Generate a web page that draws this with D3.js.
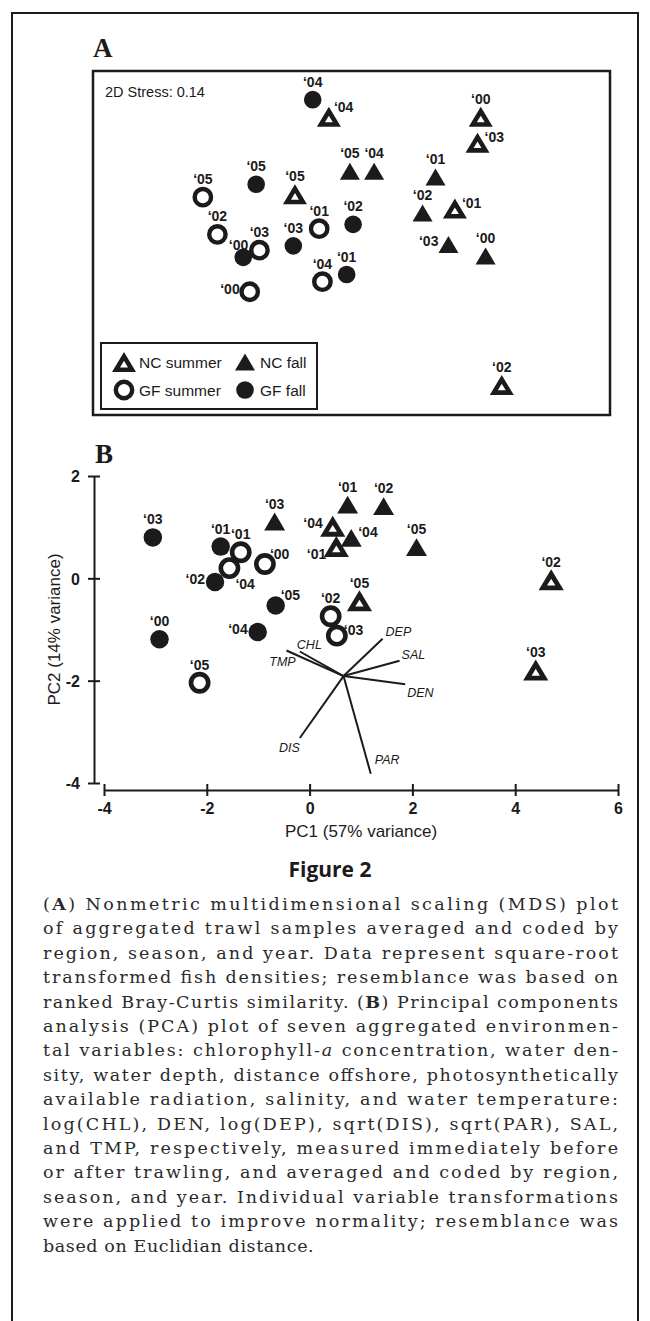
<!DOCTYPE html>
<html><head><meta charset="utf-8">
<script src="https://cdn.jsdelivr.net/npm/d3@7"></script>
<style>body{margin:0;background:#fff}</style>
</head><body>
<script>
// ---------- Panel A : MDS (arbitrary MDS units) ----------
const mdsGroup = ["GFf","NCs","GFs","GFf","NCs","NCf","GFs","GFf","GFs","GFf","GFs","GFf","GFs","GFf","GFs","NCf","NCs","NCs","NCf","NCf","NCs","NCf","NCf","NCs"];
const mdsYear  = ["04","04","05","05","05","05","02","00","03","03","01","02","04","01","00","04","00","03","01","02","01","03","00","02"];
const mdsX     = [-0.24,-0.14,-0.92,-0.59,-0.35,-0.01,-0.83,-0.67,-0.57,-0.36,-0.20,0.01,-0.18,-0.03,-0.63,0.14,0.80,0.78,0.52,0.44,0.64,0.60,0.83,0.93];
const mdsY     = [1.00,0.88,0.32,0.41,0.34,0.50,0.06,-0.10,-0.05,-0.02,0.10,0.13,-0.27,-0.22,-0.34,0.50,0.88,0.70,0.46,0.21,0.24,-0.01,-0.09,-0.99];
const mdsLabelSide = ["n","ne","n","n","n","n","n","nw","n","n","n","n","n","n","w","n","n","e","n","n","e","w","n","n"];
const stressText = "2D Stress: 0.14";

// ---------- Panel B : PCA ----------
const pcaGroup = ["GFf","GFf","GFs","GFs","GFf","GFs","NCf","GFf","GFf","GFf","GFs","GFs","GFs","NCs","NCf","NCf","NCs","NCf","NCs","NCf","NCs","NCs"];
const pcaYear  = ["03","01","01","04","02","00","03","00","05","04","05","02","03","05","01","02","04","04","01","05","02","03"];
const pcaX     = [-3.05,-1.73,-1.34,-1.56,-1.84,-0.87,-0.68,-2.92,-0.66,-1.01,-2.14,0.41,0.53,0.97,0.74,1.44,0.45,0.81,0.52,2.08,4.70,4.40];
const pcaY     = [0.80,0.62,0.51,0.20,-0.07,0.28,1.11,-1.19,-0.53,-1.05,-2.04,-0.74,-1.12,-0.44,1.44,1.41,1.02,0.79,0.62,0.61,-0.03,-1.79];
const pcaLabelSide = ["n","n","n","se","w","ne","n","n","ne","w","n","n","e","n","n","n","w","e","sw","n","n","n"];

const vecNames = ["CHL","TMP","DEP","SAL","DEN","DIS","PAR"];
const vecX = [-0.19,-0.45,1.42,1.75,1.86,-0.19,1.19];
const vecY = [-1.43,-1.41,-1.18,-1.61,-2.07,-3.12,-3.82];
const vecOriginX = 0.66, vecOriginY = -1.91;

const pcaXTicks = [-4,-2,0,2,4,6];
const pcaYTicks = [-4,-2,0,2];
const pcaXTitle = "PC1 (57% variance)";
const pcaYTitle = "PC2 (14% variance)";

const legendKeys = ["NCs","NCf","GFs","GFf"];
const legendLabels = ["NC summer","NC fall","GF summer","GF fall"];

const figTitle = "Figure 2";
const captionLines = [
 "(**A**) Nonmetric multidimensional scaling (MDS) plot",
 "of aggregated trawl samples averaged and coded by",
 "region, season, and year. Data represent square-root",
 "transformed fish densities; resemblance was based on",
 "ranked Bray-Curtis similarity. (**B**) Principal components",
 "analysis (PCA) plot of seven aggregated environmen-",
 "tal variables: chlorophyll-_a_ concentration, water den-",
 "sity, water depth, distance offshore, photosynthetically",
 "available radiation, salinity, and water temperature:",
 "log(CHL), DEN, log(DEP), sqrt(DIS), sqrt(PAR), SAL,",
 "and TMP, respectively, measured immediately before",
 "or after trawling, and averaged and coded by region,",
 "season, and year. Individual variable transformations",
 "were applied to improve normality; resemblance was",
 "based on Euclidian distance."
];

// ---------- drawing ----------
const ink = "#1c1a1b";
const sans = '"Liberation Sans", Arial, Helvetica, sans-serif';
const svg = d3.select("body").append("svg")
  .attr("width",650).attr("height",1321)
  .style("font-family",sans);

// outer frame
svg.append("rect").attr("x",12).attr("y",13).attr("width",626).attr("height",1340)
  .attr("fill","none").attr("stroke",ink).attr("stroke-width",2);

function triPts(w,h){ return [[0,-h/2],[w/2,h/2],[-w/2,h/2]]; }
function drawMarker(g, grp, s){
  if(grp==="NCs"){
    const w=24*s,h=20*s, pts=triPts(w,h);
    const leg=Math.hypot(w/2,h), area=w*h/2, r=area/((w+2*leg)/2);
    const ic=[0,h/2-r], k=0.33;
    g.append("path").attr("d",d3.line()(pts)+"Z").attr("fill",ink);
    g.append("path").attr("d",d3.line()(pts.map(p=>[ic[0]+k*(p[0]-ic[0]), ic[1]+k*(p[1]-ic[1])]))+"Z").attr("fill","#fff");
  } else if(grp==="NCf"){
    g.append("path").attr("d",d3.line()(triPts(20*s,17*s))+"Z").attr("fill",ink);
  } else if(grp==="GFs"){
    g.append("circle").attr("r",8.2*s).attr("fill","#fff").attr("stroke",ink).attr("stroke-width",4.4*s);
  } else {
    g.append("circle").attr("r",8.8*s).attr("fill",ink);
  }
}
const labelOff = {
  n:{a:"middle",dx:0,dy:-13},
  ne:{a:"start",dx:5,dy:-5},
  e:{a:"start",dx:7,dy:-1},
  w:{a:"end",dx:-10,dy:2},
  nw:{a:"end",dx:5,dy:-7},
  se:{a:"start",dx:6,dy:21},
  sw:{a:"end",dx:-10,dy:12}
};
function drawPoints(layer, xs, ys, groups, years, sides, sx, sy, s){
  xs.forEach((v,i)=>{
    const g = layer.append("g").attr("transform",`translate(${sx(v)},${sy(ys[i])})`);
    drawMarker(g, groups[i], s);
    const o = labelOff[sides[i]];
    layer.append("text").attr("x",sx(v)+o.dx).attr("y",sy(ys[i])+o.dy)
      .attr("text-anchor",o.a).attr("font-size",14).attr("font-weight","bold").attr("fill",ink)
      .text("\u2018"+years[i]);
  });
}

// ===== Panel A =====
svg.append("text").attr("x",93).attr("y",57).attr("font-family",'"Liberation Serif", "Times New Roman", serif')
  .attr("font-weight","bold").attr("font-size",27).attr("fill",ink).text("A");
const ax = d3.scaleLinear().domain([-1.6,1.6]).range([93,610]);
const ay = d3.scaleLinear().domain([-1.2,1.2]).range([415,71]);
svg.append("rect").attr("x",ax(-1.6)).attr("y",ay(1.2)).attr("width",ax(1.6)-ax(-1.6)).attr("height",ay(-1.2)-ay(1.2))
  .attr("fill","none").attr("stroke",ink).attr("stroke-width",2.5);
svg.append("text").attr("x",105).attr("y",97).attr("font-size",14.5).attr("fill",ink).text(stressText);
const aLayer = svg.append("g");
drawPoints(aLayer, mdsX, mdsY, mdsGroup, mdsYear, mdsLabelSide, ax, ay, 1);

// legend
const lg = svg.append("g");
lg.append("rect").attr("x",101).attr("y",343).attr("width",216).attr("height",66)
  .attr("fill","#fff").attr("stroke",ink).attr("stroke-width",2);
legendKeys.forEach((k,i)=>{
  const col=i%2, row=Math.floor(i/2);
  const cx = 124 + col*121, cy = 362 + row*28;
  drawMarker(lg.append("g").attr("transform",`translate(${cx},${cy})`), k, 1);
  lg.append("text").attr("x",cx+15).attr("y",cy+6).attr("font-size",15.5).attr("fill",ink).text(legendLabels[i]);
});

// ===== Panel B =====
svg.append("text").attr("x",95).attr("y",463).attr("font-family",'"Liberation Serif", "Times New Roman", serif')
  .attr("font-weight","bold").attr("font-size",27).attr("fill",ink).text("B");
const bx = d3.scaleLinear().domain([-4,6]).range([104,618]);
const by = d3.scaleLinear().domain([-4,2]).range([783,476]);
const yAxisX = 94, xAxisY = 790;
const fmt = d => String(d);

const gy = svg.append("g").attr("transform",`translate(${yAxisX},0)`)
  .call(d3.axisLeft(by).tickValues(pcaYTicks).tickSizeOuter(0).tickSizeInner(6).tickPadding(8).tickFormat(fmt));
gy.select(".domain").attr("stroke",ink).attr("stroke-width",2);
gy.selectAll(".tick line").attr("x1",-6).attr("x2",6).attr("stroke",ink).attr("stroke-width",2);
gy.selectAll(".tick text").attr("font-family",sans).attr("font-size",16).attr("font-weight","bold").attr("fill",ink).attr("dy","0.36em");

const gx = svg.append("g").attr("transform",`translate(0,${xAxisY})`)
  .call(d3.axisBottom(bx).tickValues(pcaXTicks).tickSizeOuter(0).tickSizeInner(6).tickPadding(7).tickFormat(fmt));
gx.select(".domain").attr("stroke",ink).attr("stroke-width",2);
gx.selectAll(".tick line").attr("y1",-6).attr("y2",6).attr("stroke",ink).attr("stroke-width",2);
gx.selectAll(".tick text").attr("font-family",sans).attr("font-size",16).attr("font-weight","bold").attr("fill",ink);

svg.append("text").attr("x",(bx(-4)+bx(6))/2).attr("y",837).attr("text-anchor","middle")
  .attr("font-size",17).attr("fill",ink).text(pcaXTitle);
svg.append("text").attr("transform",`translate(60,${(by(-4)+by(2))/2}) rotate(-90)`).attr("text-anchor","middle")
  .attr("font-size",17).attr("fill",ink).text(pcaYTitle);

// vectors
const vecLab = {
  CHL:{a:"start",dx:-3,dy:-3}, TMP:{a:"middle",dx:-4,dy:16}, DEP:{a:"start",dx:3,dy:-3},
  SAL:{a:"start",dx:2,dy:-2}, DEN:{a:"start",dx:2,dy:13}, DIS:{a:"end",dx:0,dy:14}, PAR:{a:"start",dx:4,dy:-10}
};
const vg = svg.append("g");
vecNames.forEach((n,i)=>{
  vg.append("line").attr("x1",bx(vecOriginX)).attr("y1",by(vecOriginY)).attr("x2",bx(vecX[i])).attr("y2",by(vecY[i]))
    .attr("stroke",ink).attr("stroke-width",2);
  const o = vecLab[n];
  vg.append("text").attr("x",bx(vecX[i])+o.dx).attr("y",by(vecY[i])+o.dy).attr("text-anchor",o.a)
    .attr("font-size",12.5).attr("font-style","italic").attr("fill",ink).text(n);
});

const bLayer = svg.append("g");
drawPoints(bLayer, pcaX, pcaY, pcaGroup, pcaYear, pcaLabelSide, bx, by, 1.05);

// ===== Caption =====
svg.append("text").attr("x",330).attr("y",877).attr("text-anchor","middle")
  .attr("font-family",'"Open Sans", "Liberation Sans", sans-serif').attr("font-weight","bold").attr("font-size",21).attr("fill",ink)
  .text(figTitle);
const serif = '"DejaVu Serif", "Liberation Serif", serif';
captionLines.forEach((line,i)=>{
  const t = svg.append("text").attr("x",43).attr("y",910+i*24.4)
    .attr("font-family",serif).attr("font-size",17.5).attr("fill","#2a2a2a");
  line.split(/(\*\*[^*]+\*\*|_[^_]+_)/).filter(s=>s.length).forEach(seg=>{
    if(seg.startsWith("**")) t.append("tspan").attr("font-weight","bold").text(seg.slice(2,-2));
    else if(seg.startsWith("_")) t.append("tspan").attr("font-style","italic").text(seg.slice(1,-1));
    else t.append("tspan").text(seg);
  });
  if(i<captionLines.length-1) t.attr("textLength",575).attr("lengthAdjust","spacing");
  else t.attr("letter-spacing",0.6);
});
</script>
</body></html>
